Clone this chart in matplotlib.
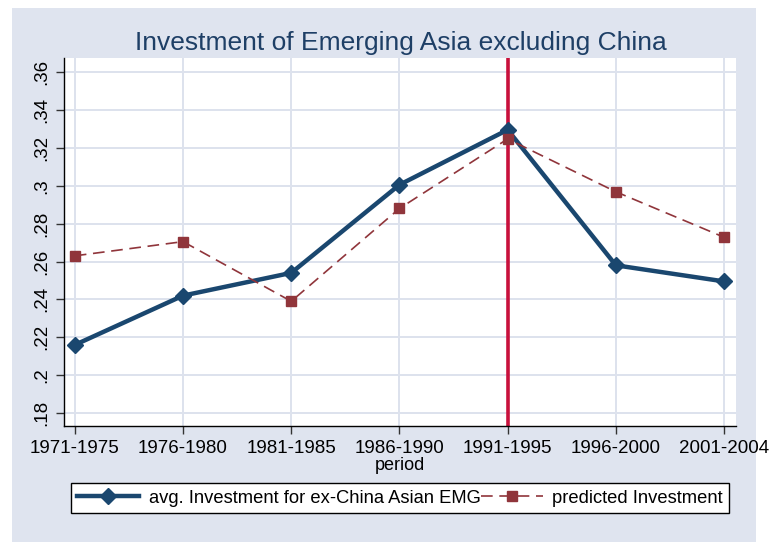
import numpy as np
import matplotlib.pyplot as plt
from matplotlib.patches import Rectangle

plt.rcParams['font.family'] = ['Liberation Sans', 'DejaVu Sans']

periods = ["1971-1975", "1976-1980", "1981-1985", "1986-1990",
           "1991-1995", "1996-2000", "2001-2004"]
avg_inv = [0.216, 0.242, 0.254, 0.3005, 0.3295, 0.258, 0.2495]
pred_inv = [0.263, 0.2705, 0.239, 0.288, 0.3247, 0.2968, 0.2728]
yticks = [0.18, 0.20, 0.22, 0.24, 0.26, 0.28, 0.30, 0.32, 0.34, 0.36]
ytick_labels = [".18", ".2", ".22", ".24", ".26", ".28", ".3", ".32", ".34", ".36"]
crisis_period = 5

navy = "#1A476F"
maroon = "#90353B"
red = "#C8103C"
bg = "#DFE4EF"
grid_c = "#DDE2ED"

fig = plt.figure(figsize=(7.72, 5.42), dpi=100)
fig.patch.set_facecolor("white")
fig.patches.append(Rectangle((12 / 772, 0), 744 / 772, 534 / 542,
                             transform=fig.transFigure, facecolor=bg,
                             edgecolor="none", zorder=-10))

ax = fig.add_axes([64 / 772, 1 - 426 / 542, 672 / 772, 368 / 542])
ax.set_facecolor("white")
x = np.arange(1, len(periods) + 1)

ax.axvline(crisis_period, color=red, lw=2.6, zorder=2)
ax.plot(x, avg_inv, color=navy, lw=3.2, marker="D", ms=8,
        label="avg. Investment for ex-China Asian EMG", zorder=3)
ax.plot(x, pred_inv, color=maroon, lw=1.2, ls=(0, (7, 4)), marker="s", ms=7,
        label="predicted Investment", zorder=4)

ax.set_xlim(0.9, 7.11)
ax.set_ylim(0.1732, 0.3674)
ax.set_xticks(x)
ax.set_xticklabels(periods, fontsize=13.5)
ax.set_yticks(yticks)
ax.set_yticklabels(ytick_labels, fontsize=13.5, rotation=90, va="center")
ax.tick_params(direction="out", length=6, width=1, color="#333333", pad=4)
ax.grid(True, color=grid_c, lw=1.4, zorder=0)
ax.set_axisbelow(True)
for s in ["top", "right"]:
    ax.spines[s].set_visible(False)
for s in ["left", "bottom"]:
    ax.spines[s].set_color("black")
    ax.spines[s].set_linewidth(1)
ax.set_xlabel("period", fontsize=13, labelpad=0)

fig.text(401 / 772, 1 - 43 / 542, "Investment of Emerging Asia excluding China",
         ha="center", va="center", fontsize=19, color="#1E3F66")

leg = ax.legend(loc="center", bbox_to_anchor=(0.518, 0.081),
                bbox_transform=fig.transFigure, ncol=2, fontsize=13.2,
                frameon=True, fancybox=False, edgecolor="black",
                handlelength=3.4, columnspacing=0.0, handletextpad=0.5,
                borderpad=0.35, framealpha=1)
leg.get_frame().set_linewidth(1)

fig.savefig("out.png", dpi=100, facecolor=fig.get_facecolor())
